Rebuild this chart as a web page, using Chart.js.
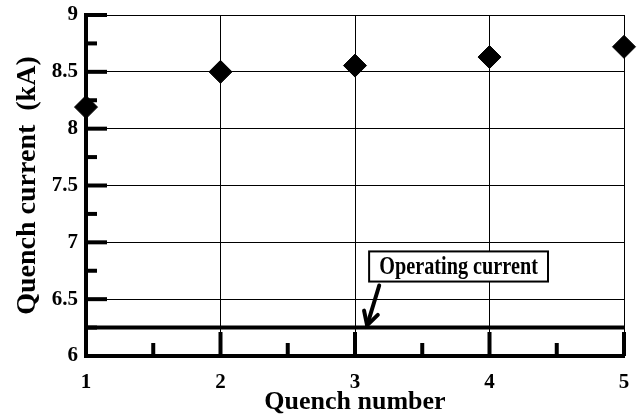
<!DOCTYPE html>
<html>
<head>
<meta charset="utf-8">
<script src="https://cdn.jsdelivr.net/npm/chart.js@4.4.1/dist/chart.umd.min.js"></script>
<style>
  html, body { margin: 0; padding: 0; background: #fff; }
  #wrap { width: 639px; height: 420px; position: relative; }
</style>
</head>
<body>
<div id="wrap"><canvas id="chartQuench"></canvas></div>
<script>
  // data
  var quenchNumbers = [1, 2, 3, 4, 5];
  var quenchCurrents = [8.19, 8.5, 8.555, 8.63, 8.72];
  var operatingCurrent = 6.25;
  var xTicks = [1, 2, 3, 4, 5];
  var yTicks = [6, 6.5, 7, 7.5, 8, 8.5, 9];

  var SERIF = '"Liberation Serif", "Times New Roman", serif';

  // inward ticks, annotation box + arrow
  var decor = {
    id: 'decor',
    afterDraw: function (chart) {
      var ctx = chart.ctx;
      var xs = chart.scales.x, ys = chart.scales.y;
      var a = chart.chartArea;
      ctx.save();
      ctx.strokeStyle = '#000';
      ctx.lineWidth = 4;
      ctx.lineCap = 'butt';
      // y ticks, major every 0.5, minor in between
      for (var v = 6; v <= 9.001; v += 0.25) {
        var py = ys.getPixelForValue(v);
        var major = Math.abs(v * 2 - Math.round(v * 2)) < 0.01;
        ctx.beginPath();
        ctx.moveTo(a.left, py);
        ctx.lineTo(a.left + (major ? 21 : 11), py);
        ctx.stroke();
      }
      // x ticks, major at integers, minor at halves
      for (var u = 1; u <= 5.001; u += 0.5) {
        var px = xs.getPixelForValue(u);
        var maj = Math.abs(u - Math.round(u)) < 0.01;
        ctx.beginPath();
        ctx.moveTo(px, a.bottom);
        ctx.lineTo(px, a.bottom - (maj ? 24 : 13));
        ctx.stroke();
      }
      // annotation box
      var bx1 = xs.getPixelForValue(3.105), bx2 = xs.getPixelForValue(4.435);
      var by1 = ys.getPixelForValue(6.92), by2 = ys.getPixelForValue(6.655);
      ctx.fillStyle = '#fff';
      ctx.fillRect(bx1, by1, bx2 - bx1, by2 - by1);
      ctx.lineWidth = 2;
      ctx.strokeRect(bx1, by1, bx2 - bx1, by2 - by1);
      ctx.fillStyle = '#000';
      ctx.font = 'bold 22px ' + SERIF;
      ctx.textAlign = 'center';
      ctx.textBaseline = 'middle';
      ctx.save();
      ctx.translate((bx1 + bx2) / 2, (by1 + by2) / 2 + 1);
      ctx.scale(0.92, 1.1);
      ctx.fillText('Operating current', 0, 0);
      ctx.restore();
      // arrow
      var ax1 = xs.getPixelForValue(3.18), ay1 = ys.getPixelForValue(6.62);
      var ax2 = xs.getPixelForValue(3.09), ay2 = ys.getPixelForValue(6.27);
      ctx.lineWidth = 4;
      ctx.lineCap = 'round';
      ctx.beginPath();
      ctx.moveTo(ax1, ay1);
      ctx.lineTo(ax2, ay2);
      ctx.stroke();
      var ang = Math.atan2(ay2 - ay1, ax2 - ax1);
      ctx.beginPath();
      ctx.moveTo(ax2 + 15 * Math.cos(ang + Math.PI - 0.5), ay2 + 15 * Math.sin(ang + Math.PI - 0.5));
      ctx.lineTo(ax2, ay2);
      ctx.lineTo(ax2 + 15 * Math.cos(ang + Math.PI + 0.5), ay2 + 15 * Math.sin(ang + Math.PI + 0.5));
      ctx.stroke();
      ctx.restore();
    }
  };

  var points = quenchNumbers.map(function (n, i) { return {x: n, y: quenchCurrents[i]}; });

  var dataQuench = {
    datasets: [
      {
        type: 'line',
        label: 'Operating current',
        data: [{x: quenchNumbers[0], y: operatingCurrent}, {x: quenchNumbers[quenchNumbers.length - 1], y: operatingCurrent}],
        borderColor: '#000',
        borderWidth: 4,
        pointRadius: 0,
        fill: false,
        order: 2
      },
      {
        type: 'scatter',
        label: 'Quench current',
        data: points,
        backgroundColor: '#000',
        borderColor: '#000',
        borderWidth: 1,
        pointStyle: 'rectRot',
        pointRadius: 11.5,
        clip: false,
        order: 1
      }
    ]
  };

  var tickFont = { family: SERIF, size: 21, weight: 'bold' };

  // drop the extra room chart.js keeps for edge labels
  function noEdgePad(s) {
    s.paddingTop = 0; s.paddingBottom = 0; s.paddingLeft = 0; s.paddingRight = 0;
  }

  var optionsQuench = {
    responsive: true,
    maintainAspectRatio: false,
    animation: false,
    layout: { padding: { top: 15, right: 15, left: 0, bottom: 0 } },
    scales: {
      x: {
        type: 'linear',
        min: 1,
        max: 5,
        afterBuildTicks: function (s) { s.ticks = xTicks.map(function (v) { return {value: v}; }); },
        afterFit: function (s) { s.height = 64; noEdgePad(s); },
        grid: { color: '#000', lineWidth: 1, drawTicks: false },
        border: { color: '#000', width: 4 },
        ticks: { color: '#000', padding: 14, font: tickFont, maxRotation: 0,
          callback: function (v) { return String(v); } },
        title: { display: true, text: 'Quench number', color: '#000', padding: { top: 0, bottom: 2 }, font: { family: SERIF, size: 26, weight: 'bold' } }
      },
      y: {
        min: 6,
        max: 9,
        afterBuildTicks: function (s) { s.ticks = yTicks.map(function (v) { return {value: v}; }); },
        afterFit: function (s) { s.width = 86; noEdgePad(s); },
        grid: { color: '#000', lineWidth: 1, drawTicks: false },
        border: { color: '#000', width: 4 },
        ticks: { color: '#000', padding: 8, font: tickFont,
          callback: function (v) { return String(v); } },
        title: { display: true, text: 'Quench current  (kA)', color: '#000', padding: { top: 11, bottom: 0 }, font: { family: SERIF, size: 28, weight: 'bold' } }
      }
    },
    plugins: {
      legend: { display: false },
      tooltip: { enabled: false }
    }
  };

  new Chart('chartQuench', {
    type: 'scatter',
    data: dataQuench,
    options: optionsQuench,
    plugins: [decor]
  });
</script>
</body>
</html>
